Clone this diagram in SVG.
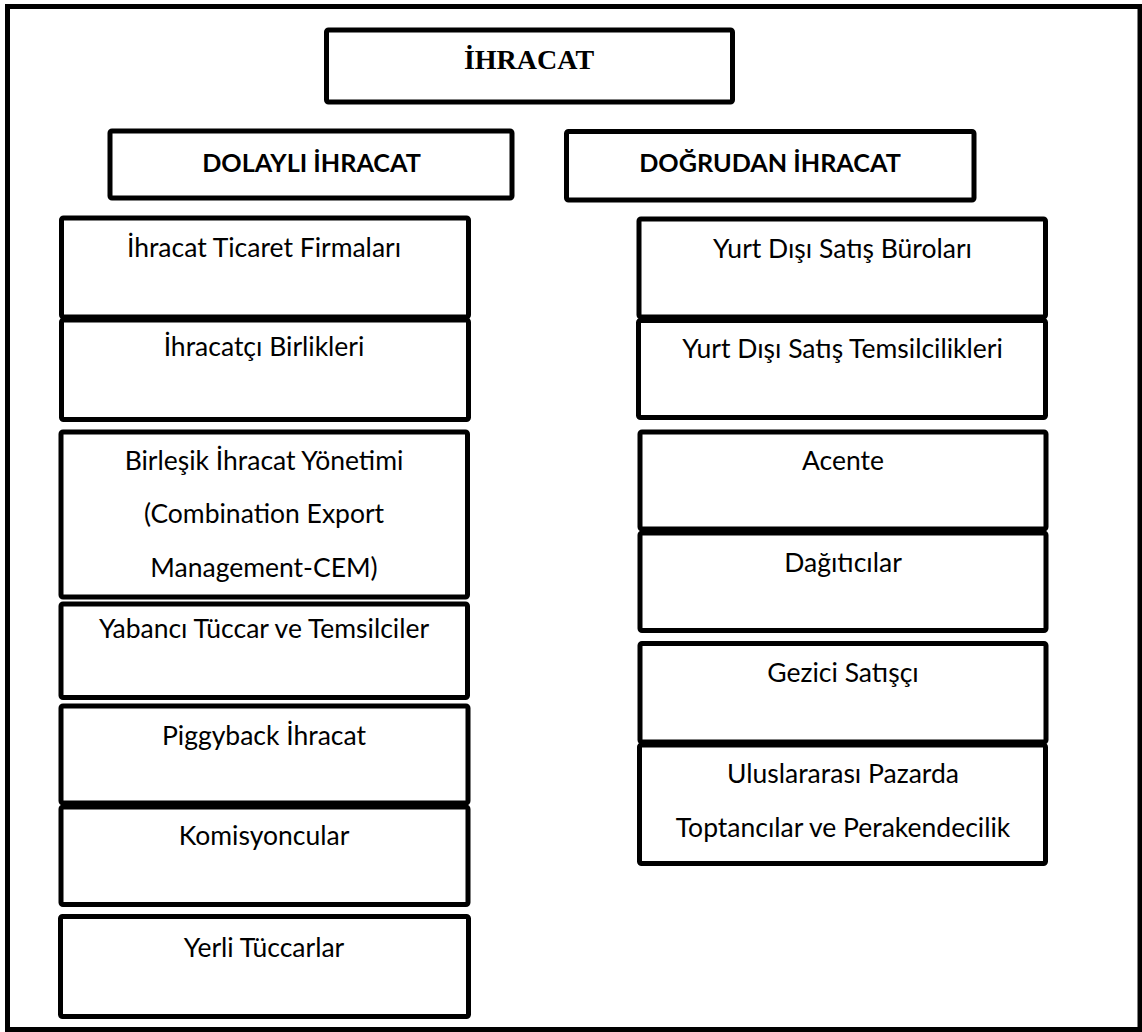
<svg xmlns="http://www.w3.org/2000/svg" width="1142" height="1032" viewBox="0 0 1142 1032">
  <style>
    .frame { fill: none; stroke: #000; stroke-width: 5; }
    .box { fill: #fff; stroke: #000; stroke-width: 5; }
    .title { font-family: "Liberation Serif", "Times New Roman", serif; font-weight: bold; font-size: 28px; fill: #000; text-anchor: middle; }
    .head { font-family: Lato, "Liberation Sans", sans-serif; font-weight: bold; font-size: 25.2px; fill: #000; text-anchor: middle; }
    .item { font-family: Lato, "Liberation Sans", sans-serif; font-size: 26.5px; fill: #000; text-anchor: middle; }
  </style>
  <rect width="1142" height="1032" fill="#fff"/>
  <!-- outer page frame -->
  <rect class="frame" x="7.5" y="6.5" width="1132.5" height="1023"/>

  <g id="ihracat">
    <rect class="box" x="326.5" y="30" width="406" height="72" rx="2"/>
    <text class="title" x="529" y="69">İHRACAT</text>
  </g>

  <g id="dolayli">
    <rect class="box" x="110" y="131" width="402" height="67" rx="2"/>
    <text class="head" x="311.5" y="172">DOLAYLI İHRACAT</text>
  </g>
  <g id="dogrudan">
    <rect class="box" x="566.5" y="131.5" width="407.5" height="68.5" rx="2"/>
    <text class="head" x="770" y="172">DOĞRUDAN İHRACAT</text>
  </g>

  <!-- indirect export column -->
  <g id="ihracat-ticaret-firmalari">
    <rect class="box" x="61.5" y="218" width="407" height="99" rx="2"/>
    <text class="item" x="264" y="257">İhracat Ticaret Firmaları</text>
  </g>
  <g id="ihracatci-birlikleri">
    <rect class="box" x="61.5" y="320" width="407" height="99.5" rx="2"/>
    <text class="item" x="264" y="356">İhracatçı Birlikleri</text>
  </g>
  <g id="birlesik-ihracat-yonetimi">
    <rect class="box" x="61" y="432" width="406.5" height="165" rx="2"/>
    <text class="item" x="264" y="470">Birleşik İhracat Yönetimi</text>
    <text class="item" x="264" y="523">(Combination Export</text>
    <text class="item" x="264" y="577">Management-CEM)</text>
  </g>
  <g id="yabanci-tuccar">
    <rect class="box" x="61" y="604" width="406.5" height="93.5" rx="2"/>
    <text class="item" x="264" y="638">Yabancı Tüccar ve Temsilciler</text>
  </g>
  <g id="piggyback">
    <rect class="box" x="61" y="706" width="407" height="97" rx="2"/>
    <text class="item" x="264" y="745">Piggyback İhracat</text>
  </g>
  <g id="komisyoncular">
    <rect class="box" x="61" y="807" width="407" height="97.5" rx="2"/>
    <text class="item" x="264" y="845">Komisyoncular</text>
  </g>
  <g id="yerli-tuccarlar">
    <rect class="box" x="60.5" y="916.5" width="408" height="100" rx="2"/>
    <text class="item" x="264" y="957">Yerli Tüccarlar</text>
  </g>

  <!-- direct export column -->
  <g id="yurt-disi-satis-burolari">
    <rect class="box" x="639" y="219" width="406.5" height="98" rx="2"/>
    <text class="item" x="842.5" y="258">Yurt Dışı Satış Büroları</text>
  </g>
  <g id="yurt-disi-satis-temsilcilikleri">
    <rect class="box" x="638.5" y="320.5" width="407" height="97" rx="2"/>
    <text class="item" x="842.5" y="358">Yurt Dışı Satış Temsilcilikleri</text>
  </g>
  <g id="acente">
    <rect class="box" x="640" y="432" width="406" height="97" rx="2"/>
    <text class="item" x="843" y="470">Acente</text>
  </g>
  <g id="dagiticilar">
    <rect class="box" x="640" y="533" width="406" height="97.5" rx="2"/>
    <text class="item" x="843" y="572">Dağıtıcılar</text>
  </g>
  <g id="gezici-satisci">
    <rect class="box" x="640" y="643.5" width="406" height="98.5" rx="2"/>
    <text class="item" x="843" y="682">Gezici Satışçı</text>
  </g>
  <g id="uluslararasi-pazarda">
    <rect class="box" x="639.5" y="745" width="406" height="118.5" rx="2"/>
    <text class="item" x="843" y="783">Uluslararası Pazarda</text>
    <text class="item" x="843" y="837">Toptancılar ve Perakendecilik</text>
  </g>
</svg>
